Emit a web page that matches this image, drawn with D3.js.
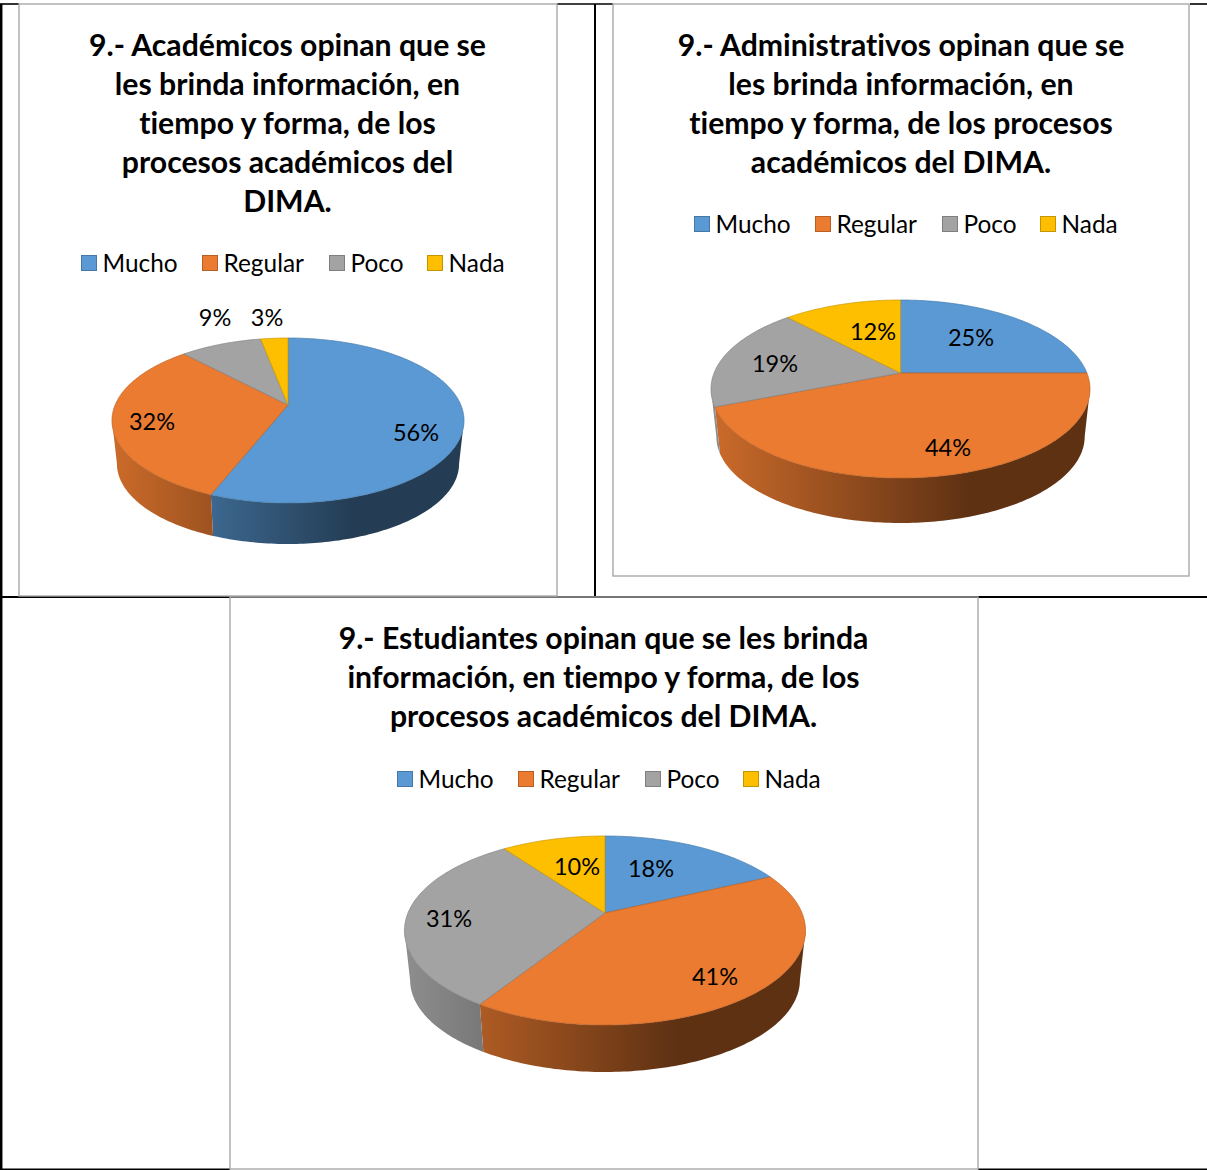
<!DOCTYPE html>
<html><head><meta charset="utf-8">
<script src="https://cdn.jsdelivr.net/npm/d3@7/dist/d3.min.js"></script>
<style>html,body{margin:0;padding:0;background:#fff}svg{display:block}text{font-family:Lato,"Open Sans",sans-serif;fill:#000;font-variant-ligatures:none}</style>
</head><body><svg id="c" width="1207" height="1170"></svg>
<script>
const categories = ["Mucho","Regular","Poco","Nada"];
const colors = ["#5a99d4","#ea7b30","#a3a3a3","#fdbf00"];
const academicos = [56,32,9,3];
const administrativos = [25,44,19,12];
const estudiantes = [18,41,31,10];
const titleAcademicos = ["9.- Académicos opinan que se","les brinda información, en","tiempo y forma, de los","procesos académicos del","DIMA."];
const titleAdministrativos = ["9.- Administrativos opinan que se","les brinda información, en","tiempo y forma, de los procesos","académicos del DIMA."];
const titleEstudiantes = ["9.- Estudiantes opinan que se les brinda","información, en tiempo y forma, de los","procesos académicos del DIMA."];

const charts = [
 {values:academicos,title:titleAcademicos,titleX:287.5,titleY:56,legendY:263,legendX:[81,202,329,427],
  cx:288,apexY:405,rx:176,t:67,b:98,depth:41,labels:[[416,433],[152,422],[215,318],[267,318]]},
 {values:administrativos,title:titleAdministrativos,titleX:901,titleY:56,legendY:224,legendX:[694,815,942,1040],
  cx:900.5,apexY:373,rx:189.5,t:73,b:105,depth:45,labels:[[971,338],[948,448],[775,364],[873,332]]},
 {values:estudiantes,title:titleEstudiantes,titleX:603.5,titleY:649,legendY:779,legendX:[397,518,645,743],
  cx:605,apexY:913,rx:200.5,t:77,b:112,depth:47,labels:[[651,869],[715,977],[449,919],[577,867]]}
];

const svg = d3.select("#c");
const defs = svg.append("defs");

// table lines and chart frames
const blackLines = [[0,4,19,4,1.6],[557,4,613,4,1.6],[1190,4,1207,4,1.6],[1.2,4,1.2,1170,2.5],[595,4,595,597,2],[0,597,1207,597,1.8],[0,1169.3,230,1169.3,1.6],[978,1169.3,1207,1169.3,1.6]];
svg.selectAll("line.b").data(blackLines).join("line").attr("x1",d=>d[0]).attr("y1",d=>d[1]).attr("x2",d=>d[2]).attr("y2",d=>d[3]).attr("stroke","#000").attr("stroke-width",d=>d[4]);
const frames = [[19,4,538,592],[613,4,576,572],[230,597,748,572]];
svg.selectAll("rect.f").data(frames).join("rect").attr("x",d=>d[0]).attr("y",d=>d[1]).attr("width",d=>d[2]).attr("height",d=>d[3]).attr("fill","none").attr("stroke","#a8a8a8").attr("stroke-width",1.4);

const pie = d3.pie().sort(null).value(d=>d);
const line = d3.line().curve(d3.curveLinear);
const STEP = Math.PI/180;

charts.forEach((c,ci)=>{
  const g = svg.append("g");
  const C = (c.b-c.t)/(c.b+c.t), h = c.t*(1+C), D = c.rx*Math.sqrt(1-C*C);
  const k = 0.972, dy = c.b + c.depth - c.b*k;
  const top = th => { const u=Math.sin(th), v=Math.cos(th), s=1+C*v; return [c.cx+D*u/s, c.apexY-h*v/s]; };
  const low = th => { const p=top(th); return [c.cx+(p[0]-c.cx)*k, c.apexY+(p[1]-c.apexY)*k+dy]; };
  const arcPts = (a,b,f) => { const n=Math.max(2,Math.ceil(Math.abs(b-a)/STEP)); return d3.range(n+1).map(i=>f(a+(b-a)*i/n)); };
  const arcs = pie(c.values);

  // side wall, only the front half of the rim shows
  const vis0 = Math.PI/2+Math.asin(C), vis1 = 2*Math.PI-vis0;
  const x0 = c.cx-c.rx, x1 = c.cx+c.rx;
  arcs.forEach((a,i)=>{
    const s=Math.max(a.startAngle,vis0), e=Math.min(a.endAngle,vis1);
    if(e<=s) return;
    const id=`w${ci}_${i}`;
    const base=d3.rgb(colors[i]);
    const shade=m=>d3.rgb(base.r*m,base.g*m,base.b*m).formatHex();
    const gr=defs.append("linearGradient").attr("id",id).attr("gradientUnits","userSpaceOnUse").attr("x1",x0).attr("x2",x1).attr("y1",0).attr("y2",0);
    [[0,.87],[.68,.4],[1,.4]].forEach(o=>gr.append("stop").attr("offset",o[0]).attr("stop-color",shade(o[1])));
    const pts=arcPts(s,e,top).concat(arcPts(e,s,low));
    g.append("path").attr("d",line(pts)+"Z").attr("fill",`url(#${id})`);
  });

  // top face
  arcs.forEach((a,i)=>{
    const pts=[[c.cx,c.apexY]].concat(arcPts(a.startAngle,a.endAngle,top));
    g.append("path").attr("d",line(pts)+"Z").attr("fill",colors[i])
      .attr("stroke",d3.rgb(colors[i]).darker(.6)).attr("stroke-width",.7).attr("stroke-linejoin","round");
  });

  // percent labels
  g.selectAll("text.l").data(arcs).join("text").attr("x",(d,i)=>c.labels[i][0]).attr("y",(d,i)=>c.labels[i][1]+8)
    .attr("text-anchor","middle").attr("font-size",23.5).text(d=>d.data+"%");

  // title
  g.selectAll("text.t").data(c.title).join("text").attr("x",c.titleX).attr("y",(d,i)=>c.titleY+i*39)
    .attr("text-anchor","middle").attr("font-size",30.2).attr("font-weight",700).text(d=>d);

  // legend
  categories.forEach((n,i)=>{
    g.append("rect").attr("x",c.legendX[i]+.5).attr("y",c.legendY-7.5).attr("width",15).attr("height",15)
      .attr("fill",colors[i]).attr("stroke",d3.rgb(colors[i]).darker(.7)).attr("stroke-width",1);
    g.append("text").attr("x",c.legendX[i]+21.5).attr("y",c.legendY+9).attr("font-size",24.4).text(n);
  });
});
</script></body></html>
